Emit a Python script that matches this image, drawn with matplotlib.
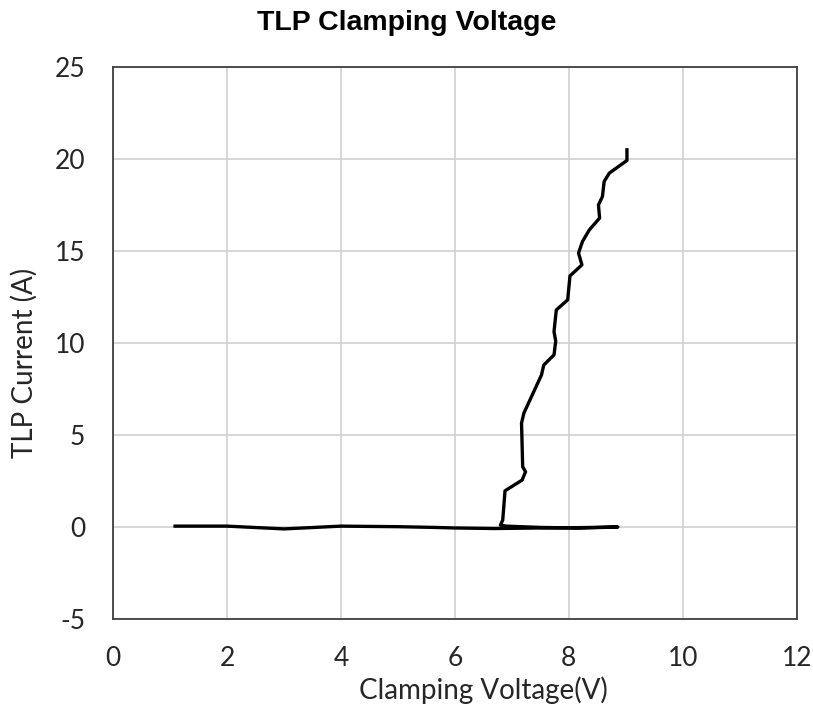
import numpy as np
import matplotlib.pyplot as plt

# TLP I-V trace (volts, amps)
voltage = [1.06, 2.0, 3.0, 4.0, 5.0, 5.65, 6.0, 6.7, 7.5, 8.2, 8.86,
           8.2, 7.5, 6.9, 6.80, 6.84, 6.88, 7.18, 7.24, 7.19, 7.17, 7.21,
           7.52, 7.56, 7.74, 7.77, 7.74, 7.78, 7.98, 8.02, 8.23, 8.17,
           8.24, 8.36, 8.54, 8.52, 8.59, 8.62, 8.71, 9.02, 9.02]
current = [0.05, 0.05, -0.1, 0.05, 0.02, -0.02, -0.05, -0.08, -0.05, -0.03, 0.0,
           -0.05, -0.02, 0.05, 0.11, 0.38, 1.97, 2.55, 3.0, 3.28, 5.64, 6.18,
           8.26, 8.80, 9.35, 10.1, 10.61, 11.79, 12.34, 13.64, 14.24, 14.88,
           15.51, 16.14, 16.78, 17.5, 17.95, 18.77, 19.22, 19.91, 20.58]

xticks = [0, 2, 4, 6, 8, 10, 12]
yticks = [-5, 0, 5, 10, 15, 20, 25]

plt.rcParams['axes.unicode_minus'] = False

fig = plt.figure(figsize=(8.13, 7.10), dpi=100)
ax = fig.add_axes([0.139, 0.128, 0.841, 0.778])

ax.plot(voltage, current, color='black', lw=2.4, solid_joinstyle='round',
        solid_capstyle='butt')

ax.set_xlim(0, 12)
ax.set_ylim(-5, 25)
ax.set_xticks(xticks)
ax.set_yticks(yticks)
ax.grid(True, color='#d0d0d0', lw=1.2)
ax.set_axisbelow(True)
for s in ax.spines.values():
    s.set_color('#404040')
    s.set_linewidth(1.3)

ax.tick_params(length=0, labelsize=19, colors='#262626')
ax.tick_params(axis='y', pad=20)
ax.tick_params(axis='x', pad=19)
for lab in ax.get_xticklabels() + ax.get_yticklabels():
    lab.set_fontfamily('Lato')

ax.set_xlabel('Clamping Voltage(V)', fontsize=20, family='Lato',
              color='#262626', labelpad=4)
ax.set_ylabel('TLP Current (A)', fontsize=20, family='Lato',
              color='#262626', labelpad=12)
# labels sit a little off-centre in the original
ax.xaxis.label.set_x(0.541)
ax.yaxis.label.set_y(0.464)
fig.text(0.5, 1 - 10 / 710, 'TLP Clamping Voltage', fontsize=20.5,
         fontweight='bold', family='Liberation Sans', ha='center', va='top')

fig.savefig('out.png', dpi=100)
